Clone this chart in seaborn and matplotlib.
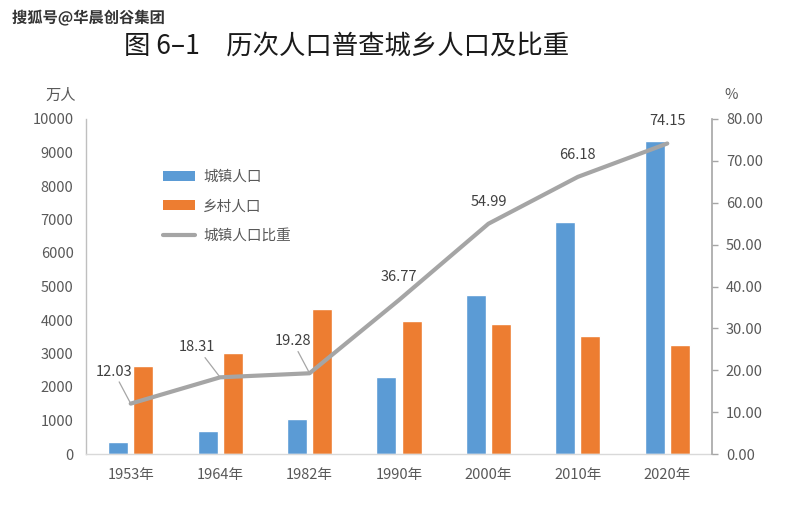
import matplotlib
matplotlib.use("Agg")
import matplotlib.pyplot as plt
import matplotlib.patheffects as pe
from matplotlib.patches import Patch
from matplotlib.lines import Line2D
import seaborn as sns
import pandas as pd
import numpy as np

years = ["1953年", "1964年", "1982年", "1990年", "2000年", "2010年", "2020年"]
urban = [355, 675, 1035, 2299, 4755, 6916, 9353]
rural = [2620, 3015, 4328, 3970, 3890, 3522, 3245]
share = [12.03, 18.31, 19.28, 36.77, 54.99, 66.18, 74.15]
series_names = ["城镇人口", "乡村人口", "城镇人口比重"]
left_ticks = [0, 1000, 2000, 3000, 4000, 5000, 6000, 7000, 8000, 9000, 10000]
right_ticks = [0, 10, 20, 30, 40, 50, 60, 70, 80]

sns.set_theme(style="white")
plt.rcParams['font.family'] = ['Noto Sans CJK SC', 'DejaVu Sans']

BLUE = "#5B9BD5"
ORANGE = "#ED7D31"
GRAY = "#A5A5A5"
TXT = "#595959"

df = pd.DataFrame({
    "year": years * 2,
    "value": urban + rural,
    "type": [series_names[0]] * len(years) + [series_names[1]] * len(years),
})

W, H = 799, 507
fig = plt.figure(figsize=(W / 100, H / 100), dpi=100)
ax = fig.add_axes([86 / W, (H - 454) / H, (712 - 86) / W, (454 - 119) / H])

sns.barplot(data=df, x="year", y="value", hue="type", order=years,
            hue_order=series_names[:2], palette=[BLUE, ORANGE],
            width=0.56, gap=0.2, ax=ax, legend=False, saturation=1)
ax.set_ylim(0, 10000)
ax.set_xlim(-0.5, len(years) - 0.5)
ax.set_yticks(left_ticks)
ax.set_xlabel("")
ax.set_ylabel("")
ax.tick_params(axis='y', length=0, pad=9, labelsize=10.5, labelcolor=TXT)
ax.tick_params(axis='x', length=0, pad=10, labelsize=10.5, labelcolor=TXT)
for s in ["top", "right"]:
    ax.spines[s].set_visible(False)
ax.spines["left"].set_color("#BFBFBF")
ax.spines["bottom"].set_color("#D9D9D9")
ax.spines["left"].set_linewidth(1.0)
ax.spines["bottom"].set_linewidth(1.0)

ax2 = ax.twinx()
pos = np.arange(len(years))
sns.lineplot(x=pos, y=share, ax=ax2, color=GRAY, linewidth=3.0, legend=False)
ax2.set_ylim(0, 80)
ax2.set_yticks(right_ticks)
ax2.set_yticklabels([f"{v:.2f}" for v in right_ticks])
ax2.tick_params(axis='y', length=4, width=1, color="#A6A6A6", pad=6, labelsize=10.5, labelcolor=TXT)
for s in ["top", "left", "bottom"]:
    ax2.spines[s].set_visible(False)
ax2.spines["right"].set_color("#A6A6A6")
ax2.spines["right"].set_linewidth(1.2)
ax2.set_ylabel("")

offsets = [(-17, 32), (-23, 30), (-17, 32), (0, 23), (0, 22), (0, 22), (0, 22)]
leader = [True, True, True, False, False, False, False]
for i, v in enumerate(share):
    kw = {}
    if leader[i]:
        kw["arrowprops"] = dict(arrowstyle='-', color="#A6A6A6", lw=0.9,
                                shrinkA=0, shrinkB=1)
    ax2.annotate(f"{v:.2f}", xy=(i, v), xytext=offsets[i], textcoords='offset pixels',
                 ha='center', va='center', fontsize=10.5, color="#404040", **kw)

handles = [Patch(facecolor=BLUE, edgecolor='none'),
           Patch(facecolor=ORANGE, edgecolor='none'),
           Line2D([0], [0], color=GRAY, lw=3)]
leg = fig.legend(handles, series_names, loc='upper left',
                 bbox_to_anchor=(150 / W, 1 - 157 / H), frameon=False,
                 fontsize=10.5, handlelength=2.2, handleheight=0.65,
                 labelspacing=1.05, handletextpad=0.55)
for t in leg.get_texts():
    t.set_color(TXT)

fig.text(61 / W, 1 - 95 / H, "万人", ha='center', va='center', fontsize=11, color=TXT)
fig.text(731 / W, 1 - 95 / H, "%", ha='center', va='center', fontsize=10.5, color=TXT)

fig.text(347 / W, 1 - 46 / H, "图 6–1\u3000历次人口普查城乡人口及比重", ha='center', va='center',
         fontsize=19, color="#1a1a1a")
fig.text(12 / W, 1 - 18 / H, "搜狐号@华晨创谷集团", ha='left', va='center',
         fontsize=11, color="#333333", fontweight='bold',
         path_effects=[pe.withStroke(linewidth=2.5, foreground='white')])

fig.savefig("out.png", dpi=100)
